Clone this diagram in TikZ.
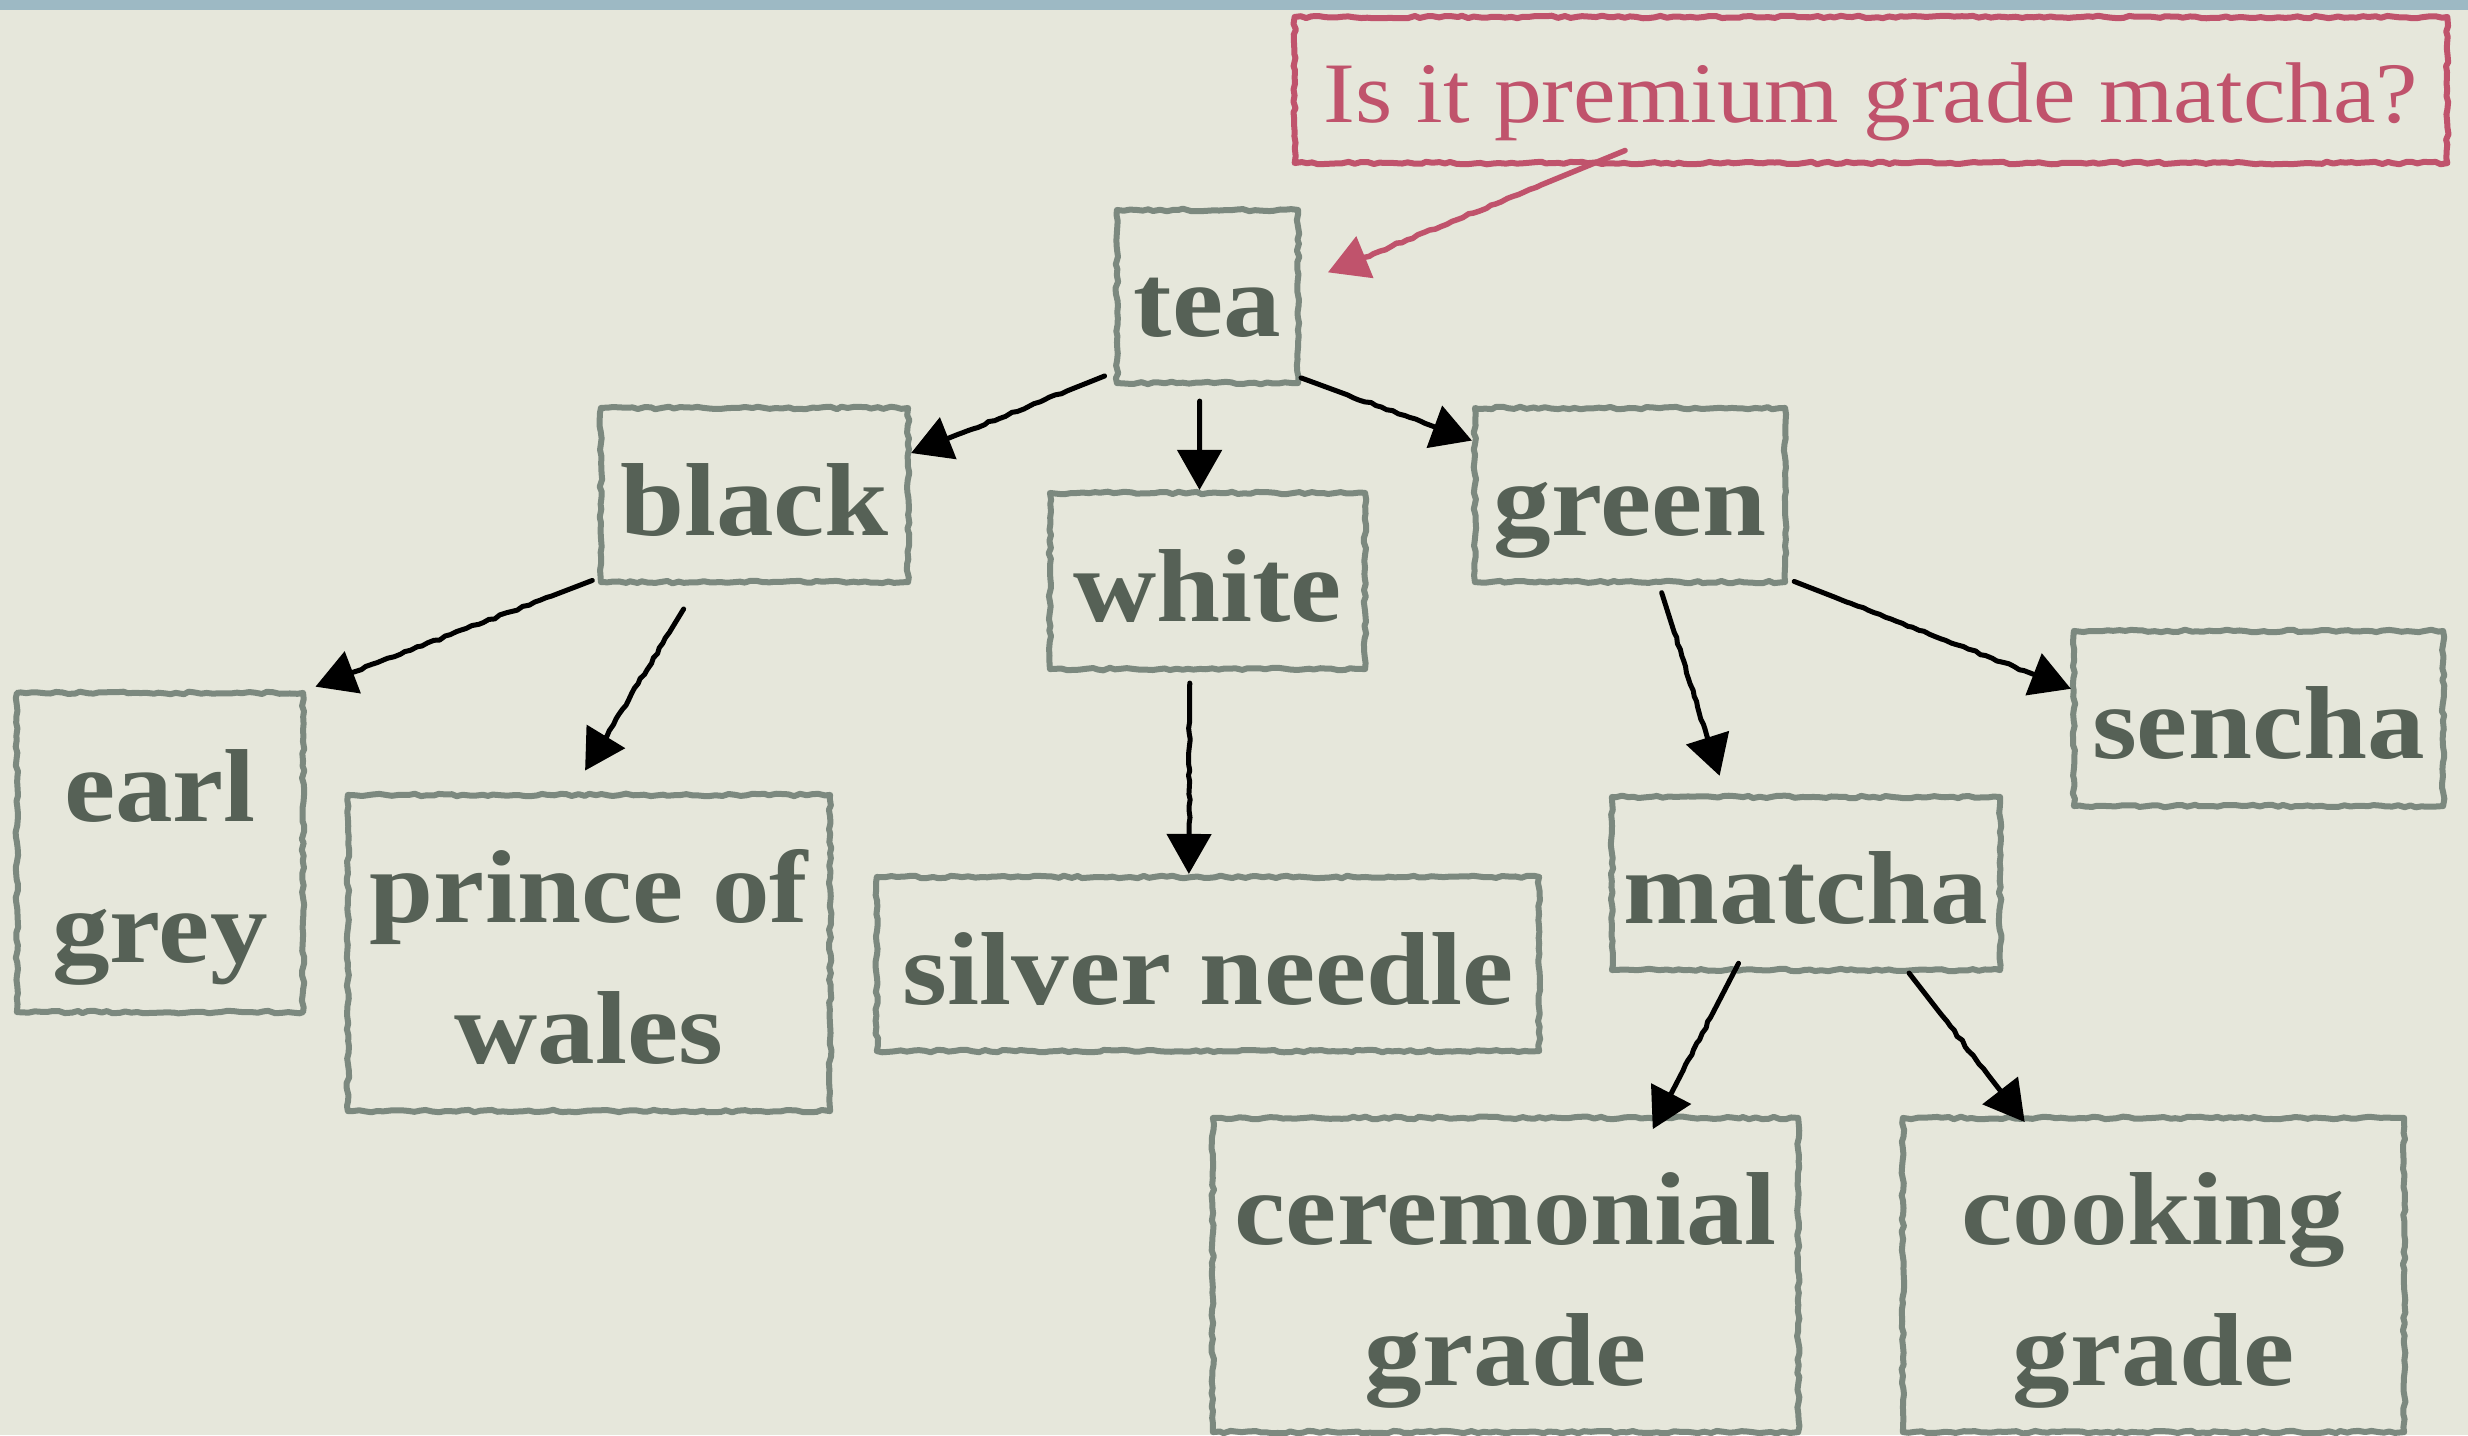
\documentclass[tikz,border=0pt]{standalone}
\usepackage{fontspec}
\setmainfont{Liberation Serif}[FakeStretch=1.11]
\usetikzlibrary{arrows.meta,decorations.pathmorphing,calc}
\definecolor{paper}{HTML}{E6E7DB}
\definecolor{strip}{HTML}{9DB9C4}
\definecolor{inkgreen}{HTML}{566156}
\definecolor{framegreen}{HTML}{7C897F}
\definecolor{rose}{HTML}{C0536C}

\begin{document}
\begin{tikzpicture}[x=0.01cm,y=-0.01cm,
  sketch/.style={decorate,decoration={random steps,segment length=0.6mm,amplitude=0.13mm}},
  box/.style={draw=framegreen,line width=0.6mm,line join=round,sketch,text=inkgreen,
    font=\bfseries\fontsize{29.5}{40}\selectfont,align=center,inner sep=0pt,
    text height=0.85cm,text depth=0.05cm},
  twoline/.style={text height=2.25cm,text depth=0.05cm},
  note/.style={draw=rose,line width=0.6mm,line join=round,sketch,text=rose,
    font=\fontsize{24.5}{30}\selectfont,align=center,inner sep=0pt,
    text height=0.7cm,text depth=0.06cm},
  arr/.style={draw=black,line width=0.5mm,line cap=round,line join=round,decorate,
    decoration={random steps,segment length=0.6mm,amplitude=0.1mm,
      pre=lineto,pre length=5mm,post=lineto,post length=5mm},
    -{Triangle[length=4mm,width=4.4mm]}},
  notearr/.style={arr,draw=rose,line width=0.55mm},
]
% paper and the strip along the top edge
\fill[paper] (0,0) rectangle (2468,1435);
\fill[strip] (0,0) rectangle (2468,10);
\useasboundingbox (0,0) rectangle (2468,1435);

% tea family tree
\node[box,minimum width=1.81cm,minimum height=1.73cm] (tea) at (1207.5,296.5) {tea};
\node[box,minimum width=3.07cm,minimum height=1.74cm] (black) at (754.5,495) {black};
\node[box,minimum width=3.15cm,minimum height=1.76cm] (white) at (1207.5,581) {white};
\node[box,minimum width=3.10cm,minimum height=1.74cm] (green) at (1630,495) {green};
\node[box,twoline,minimum width=2.86cm,minimum height=3.19cm] (earl) at (160,852.5) {earl\\grey};
\node[box,twoline,minimum width=4.82cm,minimum height=3.16cm] (prince) at (589,953) {prince of\\wales};
\node[box,minimum width=6.62cm,minimum height=1.74cm] (silver) at (1208,964) {silver needle};
\node[box,minimum width=3.69cm,minimum height=1.75cm] (sencha) at (2258.5,718.5) {sencha};
\node[box,minimum width=3.88cm,minimum height=1.73cm] (matcha) at (1806,883.5) {matcha};
\node[box,twoline,minimum width=5.85cm,minimum height=3.14cm] (ceremonial) at (1505.5,1275) {ceremonial\\grade};
\node[box,twoline,minimum width=5.01cm,minimum height=3.14cm] (cooking) at (2153.5,1275) {cooking\\grade};

% the question
\node[note,minimum width=11.52cm,minimum height=1.46cm] (question) at (1871,90) {Is it premium grade matcha?};

% branches
\draw[arr,shorten <=1mm] (tea.219) -- (black.15);
\draw[arr,shorten <=1.5mm] (tea.265) -- (white.95);
\draw[arr] (tea.319) -- (green.161);
\draw[arr,shorten <=0.6mm,shorten >=1mm] (black.208) -- (earl.48);
\draw[arr,shorten <=2.8mm,shorten >=2.5mm] (black.238) -- (prince.96);
\draw[arr,shorten <=1.1mm] (white.259) -- (silver.102);
\draw[arr,shorten <=0.8mm,shorten >=1.9mm] (green.288) -- (matcha.132);
\draw[arr,shorten <=0.65mm] (green.332) -- (sencha.171.5);
\draw[arr,shorten <=-1.1mm,shorten >=-1.6mm] (matcha.231.5) -- (ceremonial.46.8);
\draw[arr,shorten >=-0.9mm] (matcha.319.5) -- (cooking.130.4);

% pointer from the question to the root
\draw[notearr,shorten <=-4.1mm,shorten >=2.9mm] (question.195.4) -- (tea.8.1);
\end{tikzpicture}
\end{document}
